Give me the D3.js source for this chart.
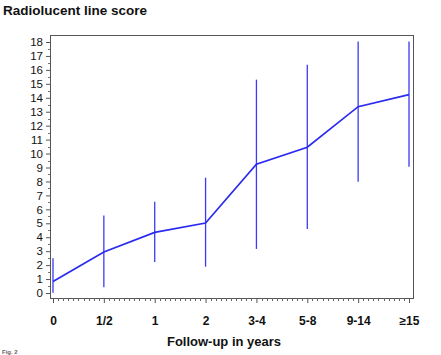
<!DOCTYPE html>
<html>
<head>
<meta charset="utf-8">
<script src="https://cdn.jsdelivr.net/npm/d3@7"></script>
<style>
  body { margin: 0; background: #fff; }
  svg { display: block; font-family: "Liberation Sans", Arial, sans-serif; }
</style>
</head>
<body>
<svg id="chart" width="441" height="355"></svg>
<script>
const categories = ["0", "1/2", "1", "2", "3-4", "5-8", "9-14", "\u226515"];
const meanScore = [0.82, 2.94, 4.35, 5.02, 9.23, 10.45, 13.36, 14.23];
const lowScore  = [0.02, 0.41, 2.22, 1.89, 3.16, 4.59, 7.98, 9.06];
const highScore = [2.49, 5.55, 6.55, 8.27, 15.3, 16.36, 18.03, 18.03];
const yTicks = d3.range(0, 19);

const svg = d3.select("#chart");
const frame = { left: 50, right: 413, top: 35, bottom: 298 };

const x = d3.scaleLinear().domain([0, categories.length - 1]).range([53, 409]);
const y = d3.scaleLinear().domain([0, 18]).range([293, 42]);

// Title
svg.append("text").attr("x", 3).attr("y", 15)
  .attr("font-size", 13.5).attr("font-weight", "bold").attr("fill", "#111")
  .text("Radiolucent line score");

// Frame
svg.append("rect")
  .attr("x", frame.left).attr("y", frame.top)
  .attr("width", frame.right - frame.left).attr("height", frame.bottom - frame.top)
  .attr("fill", "none").attr("stroke", "#555").attr("stroke-width", 1)
  .attr("shape-rendering", "crispEdges");

// Y axis
const yAxis = d3.axisLeft(y).tickValues(yTicks).tickFormat(d3.format("d")).tickSize(4).tickPadding(3);
const yg = svg.append("g").attr("transform", `translate(${frame.left},0)`).call(yAxis);
yg.select(".domain").remove();
yg.selectAll(".tick line").attr("stroke", "#555");
yg.selectAll(".tick text").attr("font-size", 11.5).attr("fill", "#111")
  .attr("font-family", "Liberation Sans, Arial, sans-serif");
// y minor ticks
svg.append("g").selectAll("line").data(d3.range(0.5, 18, 1)).join("line")
  .attr("x1", frame.left - 2).attr("x2", frame.left)
  .attr("y1", d => Math.round(y(d)) + 0.5).attr("y2", d => Math.round(y(d)) + 0.5)
  .attr("stroke", "#777").attr("stroke-width", 1);

// X axis
const xAxis = d3.axisBottom(x).tickValues(d3.range(categories.length))
  .tickFormat(i => categories[i]).tickSize(5).tickPadding(13);
const xg = svg.append("g").attr("transform", `translate(0,${frame.bottom})`).call(xAxis);
xg.select(".domain").remove();
xg.selectAll(".tick line").attr("stroke", "#555");
xg.selectAll(".tick text").attr("font-size", 12).attr("font-weight", "bold").attr("fill", "#111")
  .attr("font-family", "Liberation Sans, Arial, sans-serif");
// x minor ticks
svg.append("g").selectAll("line")
  .data(d3.range(0, (categories.length - 1) * 10 + 1).filter(i => i % 10 !== 0).map(i => i / 10))
  .join("line")
  .attr("x1", d => Math.round(x(d)) + 0.5).attr("x2", d => Math.round(x(d)) + 0.5)
  .attr("y1", frame.bottom).attr("y2", frame.bottom + 3)
  .attr("stroke", "#666").attr("stroke-width", 1);

// X title
svg.append("text").attr("x", 224).attr("y", 346)
  .attr("text-anchor", "middle").attr("font-size", 13).attr("font-weight", "bold").attr("fill", "#111")
  .text("Follow-up in years");

// Error bars
const idx = d3.range(categories.length);
svg.append("g").selectAll("line").data(idx).join("line")
  .attr("x1", i => x(i)).attr("x2", i => x(i))
  .attr("y1", i => y(lowScore[i])).attr("y2", i => y(highScore[i]))
  .attr("stroke", "#3a3af5").attr("stroke-width", 1.3);

// Mean line
svg.append("path").datum(idx)
  .attr("d", d3.line().x(i => x(i)).y(i => y(meanScore[i])))
  .attr("fill", "none").attr("stroke", "#2a2af0").attr("stroke-width", 1.7);

// Caption fragment at bottom
svg.append("text").attr("x", 2).attr("y", 354)
  .attr("font-size", 6).attr("font-weight", "bold").attr("fill", "#666")
  .text("Fig. 2");
</script>
</body>
</html>
